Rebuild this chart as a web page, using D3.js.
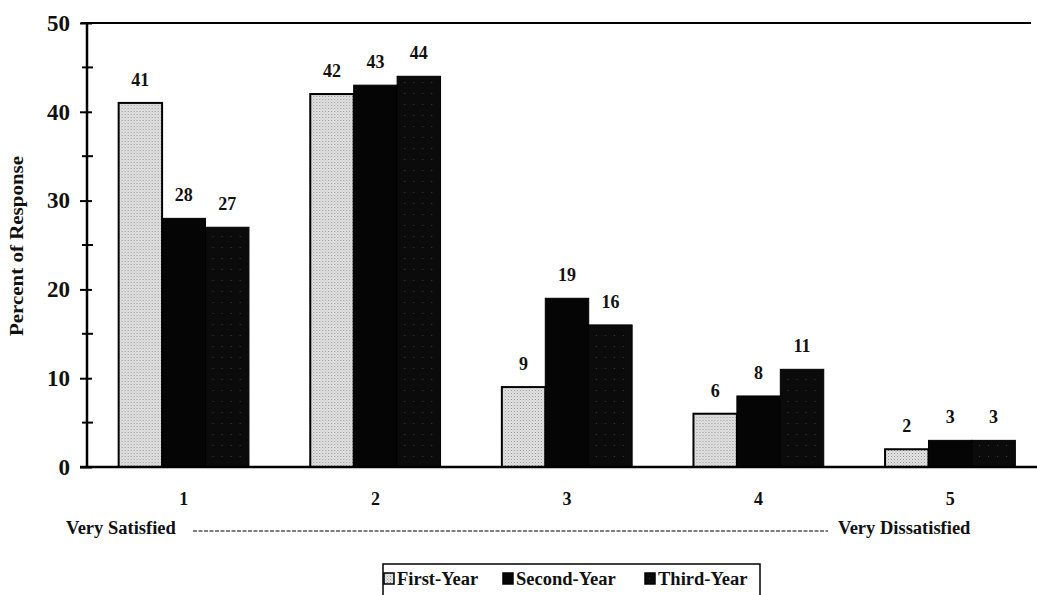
<!DOCTYPE html>
<html>
<head>
<meta charset="utf-8">
<script src="https://cdn.jsdelivr.net/npm/d3@7"></script>
<style>
  html, body { margin: 0; padding: 0; background: #fff; }
  svg { display: block; }
  text { font-family: "Liberation Serif", "Times New Roman", serif; font-weight: bold; fill: #111; }
</style>
</head>
<body>
<svg id="chart" width="1037" height="595"></svg>
<script>
// Satisfaction ratings (1 = very satisfied ... 5 = very dissatisfied)
const categories = ["1", "2", "3", "4", "5"];
const seriesNames = ["First-Year", "Second-Year", "Third-Year"];
const firstYear  = [41, 42, 9, 6, 2];
const secondYear = [28, 43, 19, 8, 3];
const thirdYear  = [27, 44, 16, 11, 3];
const yTicks = [0, 10, 20, 30, 40, 50];
const yMinorTicks = [5, 15, 25, 35, 45];

const series = [firstYear, secondYear, thirdYear];

const svg = d3.select("#chart");
const defs = svg.append("defs");

// Stippled light fill for the first series
const stip = defs.append("pattern")
  .attr("id", "stipple").attr("patternUnits", "userSpaceOnUse")
  .attr("width", 3).attr("height", 3);
stip.append("rect").attr("width", 3).attr("height", 3).attr("fill", "#e6e6e6");
stip.append("rect").attr("x", 0).attr("y", 0).attr("width", 1).attr("height", 1).attr("fill", "#8a8a8a");
stip.append("rect").attr("x", 1.5).attr("y", 1.5).attr("width", 1).attr("height", 1).attr("fill", "#a8a8a8");

// Near-black fill with sparse specks for the third series
const dark = defs.append("pattern")
  .attr("id", "darkspeck").attr("patternUnits", "userSpaceOnUse")
  .attr("width", 9).attr("height", 11);
dark.append("rect").attr("width", 9).attr("height", 11).attr("fill", "#0b0b0b");
dark.append("rect").attr("x", 4).attr("y", 5).attr("width", 1).attr("height", 1).attr("fill", "#3a3a3a");

const fills = ["url(#stipple)", "#050505", "url(#darkspeck)"];

const x = d3.scaleBand().domain(categories)
  .range([88, 1046]).paddingInner(0.32).paddingOuter(0.16);
const xs = d3.scaleBand().domain(d3.range(series.length))
  .range([0, x.bandwidth()]);
const y = d3.scaleLinear().domain([0, 50]).range([467, 23]);

// Bars
const groups = svg.append("g").selectAll("g")
  .data(categories)
  .join("g")
  .attr("transform", d => `translate(${x(d)},0)`);

groups.selectAll("rect")
  .data((c, i) => series.map((s, k) => ({ k, v: s[i] })))
  .join("rect")
  .attr("x", d => xs(d.k))
  .attr("y", d => y(d.v))
  .attr("width", xs.bandwidth())
  .attr("height", d => y(0) - y(d.v))
  .attr("fill", d => fills[d.k])
  .attr("stroke", "#000")
  .attr("stroke-width", d => d.k === 0 ? 2 : 1);

// Value labels
groups.selectAll("text.val")
  .data((c, i) => series.map((s, k) => ({ k, v: s[i] })))
  .join("text")
  .attr("class", "val")
  .attr("x", d => xs(d.k) + xs.bandwidth() / 2)
  .attr("y", d => y(d.v) - 17)
  .attr("text-anchor", "middle")
  .attr("font-size", 18)
  .text(d => d.v);

// Y axis with major (labelled) and minor ticks crossing the line
const yAxis = svg.append("g").attr("transform", "translate(87,0)")
  .call(d3.axisLeft(y).tickValues(yTicks).tickSize(7).tickPadding(10).tickFormat(d3.format("d")));
yAxis.select(".domain").remove();
yAxis.selectAll(".tick line").attr("x2", -7).attr("x1", 5).attr("stroke", "#000").attr("stroke-width", 2);
yAxis.selectAll(".tick text")
  .attr("font-size", 23).attr("font-family", "Liberation Serif, serif").attr("font-weight", "bold").attr("fill", "#111");

svg.append("g").selectAll("line")
  .data(yMinorTicks).join("line")
  .attr("x1", 82).attr("x2", 93)
  .attr("y1", d => y(d)).attr("y2", d => y(d))
  .attr("stroke", "#000").attr("stroke-width", 2);

svg.append("line").attr("x1", 87).attr("x2", 87).attr("y1", 22).attr("y2", 468)
  .attr("stroke", "#000").attr("stroke-width", 2.5);
// Top frame line and baseline
svg.append("line").attr("x1", 81).attr("x2", 1031).attr("y1", y(50)).attr("y2", y(50))
  .attr("stroke", "#000").attr("stroke-width", 2);
svg.append("line").attr("x1", 80).attr("x2", 1037).attr("y1", y(0)).attr("y2", y(0))
  .attr("stroke", "#000").attr("stroke-width", 2.5);

// Category labels
svg.append("g").selectAll("text")
  .data(categories).join("text")
  .attr("x", d => x(d) + x.bandwidth() / 2)
  .attr("y", 505)
  .attr("text-anchor", "middle")
  .attr("font-size", 18)
  .text(d => d);

// Y axis title
svg.append("text")
  .attr("transform", "translate(23,246) rotate(-90)")
  .attr("text-anchor", "middle")
  .attr("font-size", 18)
  .attr("textLength", 180)
  .attr("lengthAdjust", "spacingAndGlyphs")
  .text("Percent of Response");

// Scale anchors
svg.append("text").attr("x", 66).attr("y", 534).attr("font-size", 18.5).text("Very Satisfied");
svg.append("text").attr("x", 838).attr("y", 534).attr("font-size", 18.5).text("Very Dissatisfied");
svg.append("line").attr("x1", 193).attr("x2", 828).attr("y1", 531).attr("y2", 531)
  .attr("stroke", "#000").attr("stroke-width", 1.2).attr("stroke-dasharray", "4,1.5");

// Legend
const legend = svg.append("g");
legend.append("rect").attr("x", 383).attr("y", 564).attr("width", 377).attr("height", 40)
  .attr("fill", "#fff").attr("stroke", "#000").attr("stroke-width", 1.5);
const legendX = [384, 503, 645];
const items = legend.selectAll("g").data(seriesNames).join("g")
  .attr("transform", (d, i) => `translate(${legendX[i]},573)`);
items.append("rect").attr("width", 10).attr("height", 11)
  .attr("fill", (d, i) => fills[i]).attr("stroke", "#000").attr("stroke-width", 1.5);
items.append("text").attr("x", 13).attr("y", 12).attr("font-size", 18.5).text(d => d);
</script>
</body>
</html>
